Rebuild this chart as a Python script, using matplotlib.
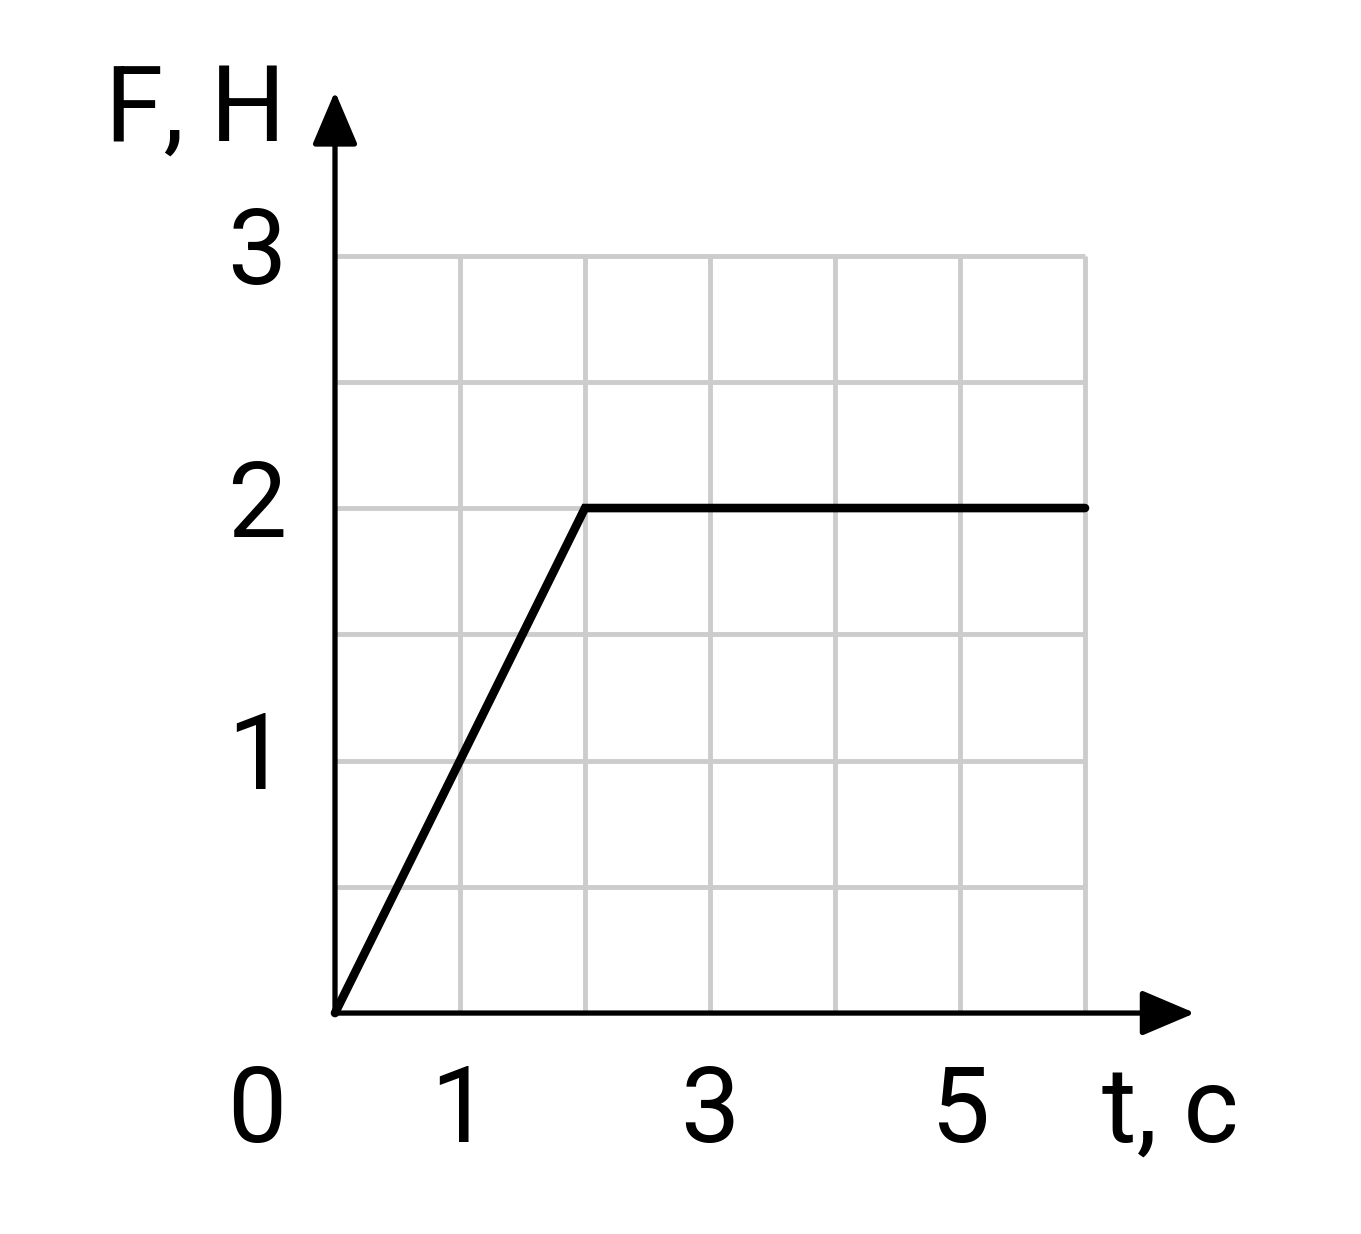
import matplotlib.pyplot as plt

# force vs time
t_vals = [0, 2, 6]
f_vals = [0, 2, 2]

x_ticks = [0, 1, 3, 5]
y_ticks = [1, 2, 3]
x_grid = [1, 2, 3, 4, 5, 6]
y_grid = [0.5, 1, 1.5, 2, 2.5, 3]

fig = plt.figure(figsize=(13.61, 12.34), dpi=100)
ax = fig.add_axes([0, 0, 1, 1])
ax.set_xlim(-2.68, 8.208)
ax.set_ylim(-0.875, 4.012)
ax.axis("off")

grid_kw = dict(color="#cccccc", lw=3.5, solid_capstyle="butt", zorder=1)
for x in x_grid:
    ax.plot([x, x], [0, 3], **grid_kw)
for y in y_grid:
    ax.plot([0, 6], [y, y], **grid_kw)

# axes with arrows
arrow = dict(arrowstyle="-|>,head_length=3.3,head_width=1.4", color="black", lw=3.8,
             shrinkA=0, shrinkB=0)
ax.annotate("", xy=(6.88, 0), xytext=(0, 0), arrowprops=arrow, zorder=3)
ax.annotate("", xy=(0, 3.65), xytext=(0, 0), arrowprops=arrow, zorder=3)

ax.plot(t_vals, f_vals, color="black", lw=6.2, solid_capstyle="round",
        solid_joinstyle="miter", zorder=4)

font = dict(family=["Roboto", "DejaVu Sans"], fontweight="normal", fontsize=76,
            ha="center", va="center")
for v in x_ticks:
    xp = -0.624 if v == 0 else v
    ax.text(xp, -0.396, str(v), **font)
for v in y_ticks:
    ax.text(-0.624, v, str(v), **font)
ax.text(6.68, -0.396, "t, c", **font)
ax.text(-1.12, 3.57, "F, H", **font)

fig.savefig("out.png", dpi=100, facecolor="white")
